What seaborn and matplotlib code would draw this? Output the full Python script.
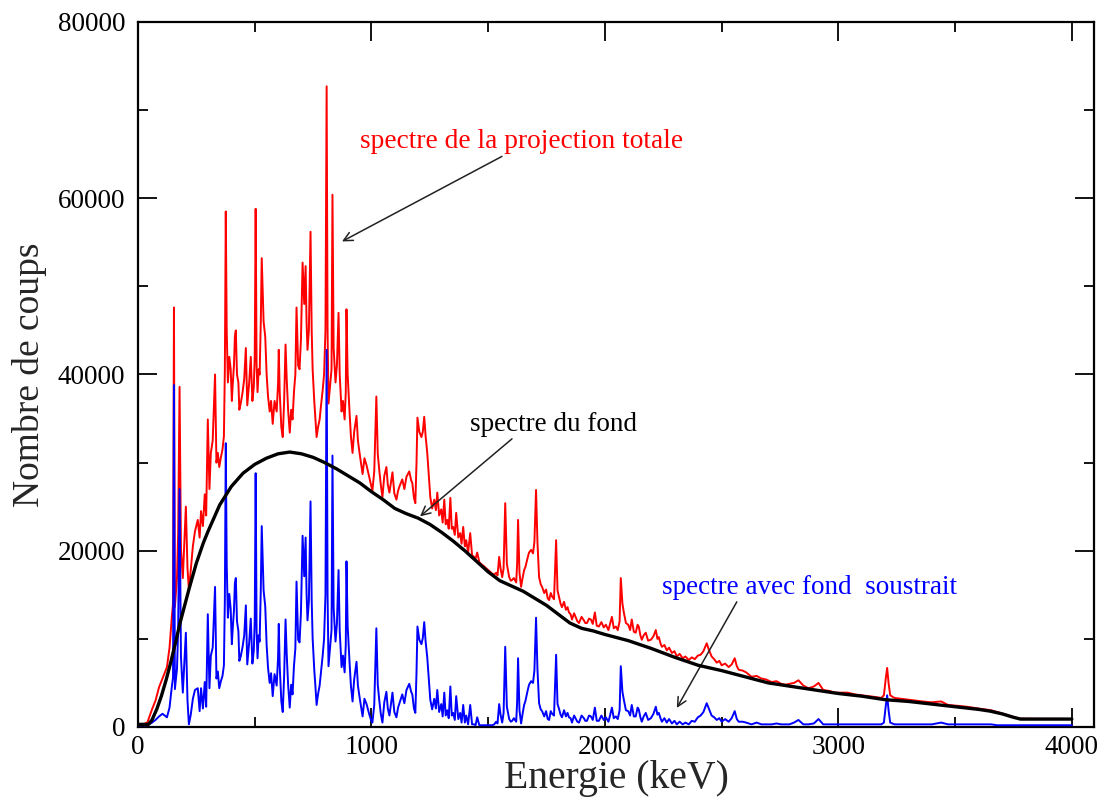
import matplotlib
matplotlib.use("Agg")
import matplotlib.pyplot as plt
from matplotlib.ticker import MultipleLocator
import numpy as np
import pandas as pd
import seaborn as sns

# ---------------- data ----------------
energy_kev = [
    0, 20, 40, 60, 75, 90, 105, 124, 135, 145,
    150, 154, 158, 167, 172, 178, 184, 192, 205, 212,
    218, 226, 235, 244, 256, 264, 270, 278, 286, 292,
    299, 306, 312, 320, 330, 336, 342, 348, 355, 362,
    368, 372, 376, 380, 385, 391, 397, 402, 406, 411,
    415, 419, 424, 430, 434, 440, 448, 455, 462, 468,
    476, 483, 490, 496, 500, 504, 508, 512, 517, 521,
    526, 530, 538, 545, 551, 557, 564, 570, 577, 585,
    594, 600, 603, 607, 614, 620, 626, 632, 637, 643,
    650, 656, 662, 668, 674, 679, 686, 692, 698, 705,
    712, 718, 722, 726, 732, 739, 744, 748, 755, 760,
    765, 771, 778, 784, 791, 797, 803, 808, 812, 816,
    822, 829, 833, 838, 846, 852, 859, 864, 872, 878,
    885, 890, 893, 898, 906, 912, 919, 926, 936, 942,
    949, 955, 962, 970, 979, 985, 991, 998, 1004, 1012,
    1021, 1027, 1034, 1040, 1047, 1055, 1064, 1070, 1077, 1084,
    1090, 1098, 1107, 1114, 1120, 1132, 1141, 1150, 1162, 1170,
    1175, 1182, 1188, 1193, 1197, 1205, 1214, 1220, 1226, 1232,
    1239, 1246, 1252, 1260, 1269, 1276, 1282, 1290, 1299, 1305,
    1312, 1318, 1325, 1331, 1338, 1344, 1350, 1357, 1363, 1372,
    1380, 1386, 1393, 1400, 1406, 1414, 1423, 1431, 1440, 1446,
    1453, 1462, 1474, 1484, 1496, 1505, 1517, 1526, 1534, 1540,
    1547, 1553, 1560, 1566, 1573, 1580, 1590, 1597, 1603, 1610,
    1620, 1624, 1628, 1634, 1641, 1648, 1654, 1660, 1667, 1675,
    1684, 1692, 1698, 1705, 1711, 1718, 1725, 1731, 1740, 1748,
    1755, 1761, 1768, 1774, 1782, 1791, 1797, 1803, 1810, 1816,
    1825, 1833, 1840, 1846, 1853, 1859, 1868, 1876, 1882, 1889,
    1900, 1910, 1916, 1923, 1932, 1940, 1948, 1957, 1965, 1974,
    1985, 1995, 2004, 2015, 2022, 2030, 2038, 2047, 2055, 2063,
    2068, 2075, 2081, 2090, 2100, 2108, 2115, 2124, 2132, 2140,
    2145, 2152, 2158, 2166, 2175, 2185, 2197, 2208, 2218, 2225,
    2231, 2238, 2244, 2255, 2265, 2275, 2287, 2298, 2308, 2320,
    2333, 2345, 2359, 2372, 2385, 2398, 2410, 2422, 2436, 2445,
    2457, 2468, 2479, 2490, 2500, 2515, 2530, 2543, 2556, 2565,
    2573, 2590, 2605, 2628, 2650, 2670, 2690, 2714, 2735, 2755,
    2774, 2790, 2810, 2829, 2850, 2872, 2895, 2915, 2935, 2960,
    2985, 3013, 3040, 3070, 3098, 3130, 3160, 3184, 3195, 3203,
    3209, 3215, 3222, 3240, 3270, 3300, 3330, 3360, 3400, 3440,
    3470, 3513, 3550, 3600, 3654, 3680, 3720, 3760, 3780, 3850,
    3950, 4000,
]

counts_total = [
    300, 300, 500, 2000, 3000, 4500, 5500, 6800, 9000, 12500,
    14000, 47600, 13600, 16900, 22000, 38600, 20200, 16900, 25000, 18000,
    15600, 17800, 20500, 22200, 23500, 21500, 24500, 22800, 26400, 24000,
    34900, 27000, 31100, 32500, 40000, 30000, 31100, 29500, 30600, 31500,
    33000, 40600, 58500, 45000, 39100, 42000, 40600, 37000, 39000, 41000,
    44300, 45000, 40000, 39100, 36000, 36700, 38000, 39500, 43000, 36500,
    39000, 42000, 37000, 38600, 42000, 58800, 41000, 38000, 40600, 40000,
    46000, 53200, 46000, 44300, 40000, 37500, 35800, 37000, 34400, 37000,
    35800, 39000, 42800, 38000, 34000, 32900, 37000, 43400, 39500, 36000,
    33400, 36000, 34900, 38000, 40000, 47600, 41000, 40600, 44000, 52700,
    48000, 52300, 46000, 42800, 45000, 56200, 45000, 40600, 37000, 35000,
    32900, 34000, 34900, 36500, 38200, 40000, 45000, 72700, 45000, 36700,
    38500, 40600, 60400, 43000, 39100, 41000, 47000, 40000, 35800, 37000,
    34900, 38000, 47400, 40000, 35800, 33000, 31100, 33500, 35300, 32500,
    31100, 30000, 28700, 30500, 29700, 29000, 28300, 27500, 26800, 29000,
    37500, 31000, 29000, 27500, 26100, 28500, 29500, 27500, 26600, 27800,
    28900, 26500, 25800, 26800, 27300, 28100, 27000, 28400, 29000, 28000,
    27700, 26000, 25400, 30000, 35100, 33500, 32900, 33500, 35200, 33000,
    31100, 28500, 26100, 24800, 25800, 24600, 26600, 24000, 24700, 23200,
    25800, 23000, 23500, 22500, 26000, 22500, 22700, 21800, 24300, 21500,
    22000, 20800, 22700, 20500, 21200, 19800, 22000, 19500, 19300, 19100,
    19800, 18700, 18400, 18200, 17900, 17700, 17400, 17300, 17500, 17200,
    19300, 18000, 17000, 18000, 25400, 18500, 17000, 16600, 16700, 16900,
    16400, 18500, 23500, 17500, 15900, 17000, 17800, 18200, 19000, 19800,
    20100, 19700, 21000, 26900, 21000, 17000, 16200, 15900, 15200, 15600,
    14600, 14400, 15200, 14800, 14500, 21200, 15500, 14800, 14000, 13600,
    14200, 13300, 13600, 13000, 12800, 12200, 12900, 12400, 12000, 11800,
    12500, 12100, 11800, 11800, 12300, 12200, 11700, 13000, 11500, 11400,
    11900, 11300, 11600, 11000, 11700, 12500, 11200, 11400, 11000, 12000,
    16900, 14000, 13000, 11800, 11600, 11000, 12200, 10800, 10700, 11600,
    11400, 10400, 9900, 10400, 10700, 9800, 9900, 10300, 11000, 10000,
    10200, 9500, 9100, 9300, 8700, 9000, 8400, 8600, 8000, 8300,
    7800, 8000, 7600, 7900, 7700, 8100, 8200, 8600, 9500, 8800,
    8000, 7700, 7300, 7500, 7000, 7200, 6800, 7100, 7800, 6900,
    6500, 6400, 6200, 5700, 5800, 5500, 5400, 5100, 5200, 4900,
    4800, 4900, 5000, 5300, 4700, 4400, 4600, 5000, 4200, 4100,
    3900, 3900, 3900, 3700, 3600, 3500, 3400, 3300, 3600, 5500,
    6700, 5000, 3600, 3300, 3200, 3100, 3000, 2900, 2800, 2900,
    2500, 2400, 2300, 2100, 1900, 1700, 1400, 1050, 950, 930,
    920, 900,
]

counts_subtracted = [
    200, 200, 200, 500, 800, 1200, 1500, 1100, 2200, 4600,
    5600, 38800, 4300, 6600, 11100, 27000, 8000, 3900, 10700, 3000,
    300, 1400, 3200, 4200, 4400, 1800, 4400, 2100, 5100, 2300,
    12800, 4400, 8100, 9000, 15900, 5500, 6300, 4400, 5200, 5800,
    7000, 14400, 32200, 18500, 12400, 15100, 13400, 9400, 11300, 13200,
    16300, 16900, 12000, 10900, 7500, 8000, 9100, 10400, 13800, 7100,
    9500, 12300, 7200, 8700, 12000, 28800, 10900, 7800, 10400, 9700,
    15600, 22800, 15500, 13700, 9300, 6700, 5000, 6100, 3500, 6000,
    4700, 7900, 11700, 6900, 2900, 1700, 5800, 12200, 8300, 4800,
    2200, 4800, 3700, 6900, 8900, 16500, 9900, 9600, 13000, 21700,
    17100, 21500, 15200, 12100, 14300, 25600, 14400, 10100, 6500, 4600,
    2500, 3700, 4700, 6300, 8100, 10000, 15000, 42800, 15100, 6900,
    8800, 11000, 30800, 13500, 9700, 11700, 17800, 10900, 6800, 8100,
    6200, 9300, 18800, 11500, 7400, 4700, 2900, 5400, 7400, 4700,
    3400, 2400, 1200, 3200, 2600, 2000, 1400, 800, 500, 2500,
    11200, 4800, 2900, 1500, 500, 2800, 4000, 2100, 1300, 2700,
    3900, 1700, 1100, 2200, 2700, 3700, 2700, 4200, 4900, 4000,
    3700, 2100, 1600, 6200, 11400, 9900, 9400, 10100, 11900, 9700,
    7900, 5400, 3100, 2000, 3200, 2100, 4200, 1700, 2600, 1200,
    3900, 1300, 1900, 1000, 4600, 1300, 1600, 800, 3500, 900,
    1600, 500, 2500, 500, 1300, 300, 2500, 300, 300, 200,
    1100, 200, 200, 200, 200, 200, 200, 300, 600, 400,
    2600, 1400, 500, 1600, 9100, 2300, 900, 600, 700, 1000,
    600, 2800, 7800, 1900, 400, 1600, 2500, 3000, 3900, 4800,
    5200, 5000, 6400, 12400, 6600, 2700, 2000, 1800, 1200, 1800,
    900, 800, 1800, 1500, 1300, 8200, 2600, 2100, 1400, 1100,
    1900, 1200, 1600, 1100, 1000, 500, 1300, 900, 600, 500,
    1300, 1000, 700, 700, 1300, 1200, 800, 2200, 700, 700,
    1300, 800, 1100, 600, 1300, 2200, 1000, 1200, 900, 1900,
    6900, 4000, 3100, 1900, 1800, 1300, 2500, 1200, 1200, 2200,
    2000, 1100, 600, 1200, 1600, 800, 1000, 1500, 2300, 1400,
    1600, 1000, 600, 1000, 500, 900, 400, 700, 300, 600,
    300, 500, 300, 700, 600, 1100, 1300, 1700, 2700, 2100,
    1300, 1100, 800, 1000, 600, 900, 600, 1000, 1800, 900,
    600, 600, 500, 300, 500, 300, 300, 300, 400, 300,
    300, 300, 500, 800, 300, 300, 400, 900, 300, 300,
    300, 300, 300, 300, 300, 300, 300, 300, 500, 2400,
    3600, 1900, 500, 300, 300, 300, 300, 300, 300, 500,
    300, 300, 300, 300, 300, 200, 200, 200, 200, 200,
    200, 200,
]

bg_energy_kev = [
    0, 45, 60, 80, 100, 120, 140, 160, 180, 200,
    220, 250, 280, 300, 350, 400, 450, 500, 550, 600,
    650, 700, 750, 800, 850, 900, 950, 1000, 1050, 1100,
    1150, 1200, 1250, 1300, 1350, 1400, 1450, 1500, 1550, 1600,
    1650, 1700, 1750, 1800, 1850, 1900, 1950, 2000, 2100, 2200,
    2300, 2400, 2500, 2600, 2700, 2800, 2900, 3000, 3100, 3200,
    3300, 3400, 3500, 3600, 3650, 3700, 3750, 3780, 4000,
]
bg_counts = [
    300, 300, 800, 2000, 3500, 5300, 7300, 9500, 11800, 13800,
    15800, 18600, 20900, 22200, 25200, 27300, 28800, 29800, 30500, 31000,
    31200, 31000, 30600, 30000, 29300, 28500, 27700, 26700, 25800, 24800,
    24200, 23700, 23000, 22100, 21100, 20000, 18800, 17600, 16600, 16000,
    15400, 14600, 13800, 12800, 11800, 11200, 10900, 10500, 9800, 8900,
    7900, 7000, 6400, 5700, 5000, 4600, 4200, 3800, 3500, 3100,
    2900, 2600, 2300, 2000, 1800, 1500, 1100, 900, 900,
]

x_label = "Energie (keV)"
y_label = "Nombre de coups"
label_total = "spectre de la projection totale"
label_bg = "spectre du fond"
label_sub = "spectre avec fond  soustrait"

# ---------------- figure ----------------
sns.set_style("ticks")
plt.rcParams['font.family'] = ['Liberation Serif', 'DejaVu Serif']

W, H = 1101, 808
fig = plt.figure(figsize=(W / 100, H / 100), dpi=100)
L, R, T, B = 138, 1094, 22, 727
ax = fig.add_axes([L / W, 1 - B / H, (R - L) / W, (B - T) / H])

spec = pd.DataFrame({"energy": energy_kev, "total": counts_total, "sub": counts_subtracted})
bg = pd.DataFrame({"energy": bg_energy_kev, "counts": bg_counts})

sns.lineplot(data=spec, x="energy", y="total", color="#ff0000", lw=1.4,
             sort=False, estimator=None, ax=ax, zorder=2)
sns.lineplot(data=spec, x="energy", y="sub", color="#0000ff", lw=1.4,
             sort=False, estimator=None, ax=ax, zorder=3)
sns.lineplot(data=bg, x="energy", y="counts", color="black", lw=2.4,
             sort=False, estimator=None, ax=ax, zorder=4)

ax.set_xlim(0, 4095)
ax.set_ylim(0, 80000)
ax.xaxis.set_major_locator(MultipleLocator(1000))
ax.xaxis.set_minor_locator(MultipleLocator(500))
ax.yaxis.set_major_locator(MultipleLocator(20000))
ax.yaxis.set_minor_locator(MultipleLocator(10000))
ax.tick_params(which="both", direction="in", top=True, right=True, width=1.3, colors="black")
ax.tick_params(which="major", length=14, labelsize=19.5)
ax.tick_params(axis="y", which="major", pad=9)
ax.tick_params(axis="x", which="major", pad=6)
ax.tick_params(which="minor", length=7)
for s in ax.spines.values():
    s.set_linewidth(1.6)
    s.set_color("black")

ax.set_xlabel(x_label, fontsize=28.5, labelpad=0)
ax.set_ylabel(y_label, fontsize=27, labelpad=8)

arrow = dict(arrowstyle="->", color="#222222", lw=1.1, shrinkA=0, shrinkB=0,
             mutation_scale=16)
ax.annotate("", xy=(874, 55100), xytext=(1559, 64750), arrowprops=arrow)
ax.annotate("", xy=(1208, 23900), xytext=(1602, 32700), arrowprops=arrow)
ax.annotate("", xy=(2308, 2160), xytext=(2565, 14200), arrowprops=arrow)

ax.text(951, 66450, label_total, color="#ff0000", fontsize=19.7, va="center", ha="left")
ax.text(1422, 34300, label_bg, color="black", fontsize=19.5, va="center", ha="left")
ax.text(2244, 15800, label_sub, color="#0000ff", fontsize=19.5, va="center", ha="left")

fig.savefig("out.png", dpi=100)
